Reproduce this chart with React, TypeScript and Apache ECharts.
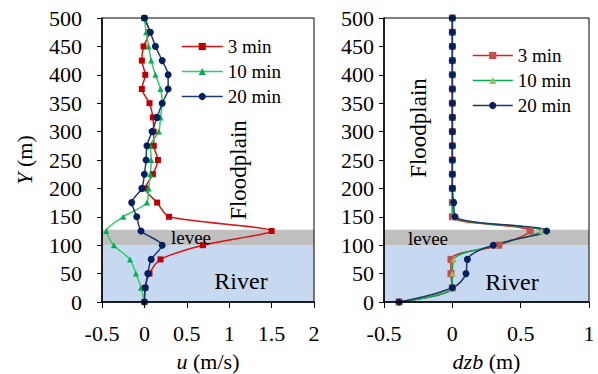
import React, { useEffect, useRef } from "react";
import * as echarts from "echarts";

const yPos = [0, 25, 50, 75, 100, 125, 150, 175, 200, 225, 250, 275, 300, 325, 350, 375, 400, 425, 450, 475, 500];

// velocity u (m/s)
const u3 = [0.0, 0.01, 0.06, 0.19, 0.69, 1.5, 0.29, 0.15, 0.01, 0.1, 0.16, 0.11, 0.11, 0.1, 0.06, -0.03, 0.01, -0.03, -0.01, 0.06, 0.0];
const u10 = [0.0, -0.04, -0.1, -0.17, -0.36, -0.45, -0.25, 0.03, 0.05, 0.07, 0.08, 0.07, 0.17, 0.19, 0.21, 0.19, 0.13, 0.08, 0.05, 0.02, 0.0];
const u20 = [0.0, 0.01, 0.04, 0.08, 0.21, -0.04, -0.09, -0.15, -0.03, 0.0, 0.02, 0.03, 0.09, 0.15, 0.21, 0.28, 0.28, 0.21, 0.13, 0.07, 0.0];

// bed change dzb (m)
const d3 = [-0.39, 0.0, -0.01, -0.01, 0.34, 0.57, 0.0, 0.0, 0, 0, 0, 0, 0, 0, 0, 0, 0, 0, 0, 0, 0];
const d10 = [-0.39, 0.0, 0.0, 0.01, 0.31, 0.65, 0.01, 0.0, 0, 0, 0, 0, 0, 0, 0, 0, 0, 0, 0, 0, 0];
const d20 = [-0.39, 0.0, 0.1, 0.11, 0.3, 0.69, 0.02, 0.01, 0, 0, 0, 0, 0, 0, 0, 0, 0, 0, 0, 0, 0];

const seriesNames = ["3 min", "10 min", "20 min"];
const riverTop = 100;
const leveeTop = 127;

const FONT = "'Liberation Serif', 'Times New Roman', serif";

const pairs = (xs: number[]) => xs.map((x, i) => [x, yPos[i]]);

export default function App() {
  const ref = useRef<HTMLDivElement>(null);
  useEffect(() => {
    if (!ref.current) return;
    const chart = echarts.init(ref.current, undefined, { renderer: "svg" });

    const grids = [
      { left: 102, right: 284, top: 18, bottom: 72, show: true, borderColor: "#000", borderWidth: 1, z: 5, backgroundColor: "transparent", containLabel: false, outerBoundsMode: "none" },
      { left: 384, right: 9, top: 18, bottom: 72, show: true, borderColor: "#000", borderWidth: 1, z: 5, backgroundColor: "transparent", containLabel: false, outerBoundsMode: "none" },
    ];

    const xAxisCommon = (idx: number, min: number, max: number, nm: string) => ({
      type: "value",
      gridIndex: idx,
      min,
      max,
      interval: 0.5,
      z: 10,
      splitLine: { show: false },
      axisLine: { show: true, onZero: false, lineStyle: { color: "#000", width: 1.5 } },
      axisTick: { show: true, inside: false, length: 6, lineStyle: { color: "#000", width: 1 } },
      axisLabel: { color: "#000", fontSize: 22, fontFamily: FONT, margin: 20 },
      name: nm,
      nameLocation: "middle",
      nameGap: 48,
      nameTextStyle: {
        color: "#000",
        fontSize: 22,
        fontFamily: FONT,
        rich: { i: { fontStyle: "italic", fontSize: 22, fontFamily: FONT, color: "#000" } },
      },
    });

    const yAxisCommon = (idx: number, margin: number, showName: boolean) => ({
      type: "value",
      gridIndex: idx,
      min: 0,
      max: 500,
      interval: 50,
      z: 10,
      splitLine: { show: false },
      axisLine: { show: true, onZero: false, lineStyle: { color: "#000", width: 1.5 } },
      axisTick: { show: true, inside: false, length: 5, lineStyle: { color: "#000", width: 1 } },
      axisLabel: { color: "#000", fontSize: 22, fontFamily: FONT, margin },
      name: showName ? "{i|Y} (m)" : "",
      nameLocation: "middle",
      nameGap: 67,
      nameRotate: 90,
      nameTextStyle: {
        color: "#000",
        fontSize: 22,
        fontFamily: FONT,
        rich: { i: { fontStyle: "italic", fontSize: 22, fontFamily: FONT, color: "#000" } },
      },
    });

    const bandSeries = (idx: number) => ({
      type: "line",
      xAxisIndex: idx,
      yAxisIndex: idx,
      data: [],
      z: 1,
      silent: true,
      markArea: {
        silent: true,
        data: [
          [{ yAxis: 0, itemStyle: { color: "#c6d9f1" } }, { yAxis: riverTop }],
          [{ yAxis: riverTop, itemStyle: { color: "#bfbfbf" } }, { yAxis: leveeTop }],
        ],
      },
    });

    const lineSeries = (
      idx: number,
      name: string,
      xs: number[],
      lineColor: string,
      markColor: string,
      symbol: string,
      size: number,
      smooth: number
    ) => ({
      type: "line",
      name,
      xAxisIndex: idx,
      yAxisIndex: idx,
      data: pairs(xs),
      z: 3,
      smooth,
      symbol,
      symbolSize: size,
      showAllSymbol: true,
      lineStyle: { color: lineColor, width: 1.5 },
      itemStyle: { color: markColor, borderWidth: 0 },
    });

    const legendText = { color: "#000", fontSize: 19, fontFamily: FONT, lineHeight: 18 };

    const option = {
      animation: false,
      textStyle: { fontFamily: FONT },
      grid: grids,
      xAxis: [
        xAxisCommon(0, -0.5, 2, "{i|u} (m/s)"),
        xAxisCommon(1, -0.5, 1, "{i|dzb} (m)"),
      ],
      yAxis: [yAxisCommon(0, 20, true), yAxisCommon(1, 10, false)],
      legend: [
        {
          orient: "vertical",
          left: 176,
          top: 32,
          itemWidth: 41,
          itemHeight: 9,
          itemGap: 6,
          textStyle: legendText,
          data: [
            { name: seriesNames[0], itemStyle: { color: "#c00000" }, lineStyle: { color: "#dd1111", width: 1.5 } },
            { name: seriesNames[1], itemStyle: { color: "#00b050" }, lineStyle: { color: "#2ecc6a", width: 1.5 } },
            { name: seriesNames[2], itemStyle: { color: "#002060" }, lineStyle: { color: "#1f3a6e", width: 1.5 } },
          ],
        },
        {
          orient: "vertical",
          left: 467,
          top: 41,
          itemWidth: 40,
          itemHeight: 9,
          itemGap: 6,
          textStyle: legendText,
          data: [
            { name: seriesNames[0], itemStyle: { color: "#c0504d" }, lineStyle: { color: "#e0201b", width: 1.5 } },
            { name: seriesNames[1], itemStyle: { color: "#9bbb59" }, lineStyle: { color: "#00b050", width: 1.5 } },
            { name: seriesNames[2], itemStyle: { color: "#002060" }, lineStyle: { color: "#1f3864", width: 1.5 } },
          ],
        },
      ],
      series: [
        bandSeries(0),
        bandSeries(1),
        lineSeries(0, seriesNames[0], u3, "#dd1111", "#c00000", "rect", 6, 0.25),
        lineSeries(0, seriesNames[1], u10, "#2ecc6a", "#00b050", "triangle", 6, 0.25),
        lineSeries(0, seriesNames[2], u20, "#1f3a6e", "#002060", "circle", 7, 0.25),
        lineSeries(1, seriesNames[0], d3, "#e0201b", "#c0504d", "rect", 7, 0.35),
        lineSeries(1, seriesNames[1], d10, "#00b050", "#9bbb59", "triangle", 6, 0.35),
        lineSeries(1, seriesNames[2], d20, "#1f3864", "#002060", "circle", 7, 0.35),
      ],
      graphic: [
        { type: "text", x: 238, y: 170, rotation: Math.PI / 2, z: 20, style: { text: "Floodplain", font: "23px " + FONT, fill: "#000", align: "center", verticalAlign: "middle" } },
        { type: "text", x: 241, y: 281, z: 20, style: { text: "River", font: "24px " + FONT, fill: "#000", align: "center", verticalAlign: "middle" } },
        { type: "text", x: 191, y: 237, z: 20, style: { text: "levee", font: "19px " + FONT, fill: "#000", align: "center", verticalAlign: "middle" } },
        { type: "text", x: 418, y: 128, rotation: Math.PI / 2, z: 20, style: { text: "Floodplain", font: "23px " + FONT, fill: "#000", align: "center", verticalAlign: "middle" } },
        { type: "text", x: 512, y: 282, z: 20, style: { text: "River", font: "24px " + FONT, fill: "#000", align: "center", verticalAlign: "middle" } },
        { type: "text", x: 428, y: 238, z: 20, style: { text: "levee", font: "19px " + FONT, fill: "#000", align: "center", verticalAlign: "middle" } },
      ],
    };

    chart.setOption(option as any);
    return () => chart.dispose();
  }, []);

  return <div ref={ref} style={{ width: 598, height: 374, position: "absolute", left: 0, top: 0, background: "#fff" }} />;
}
